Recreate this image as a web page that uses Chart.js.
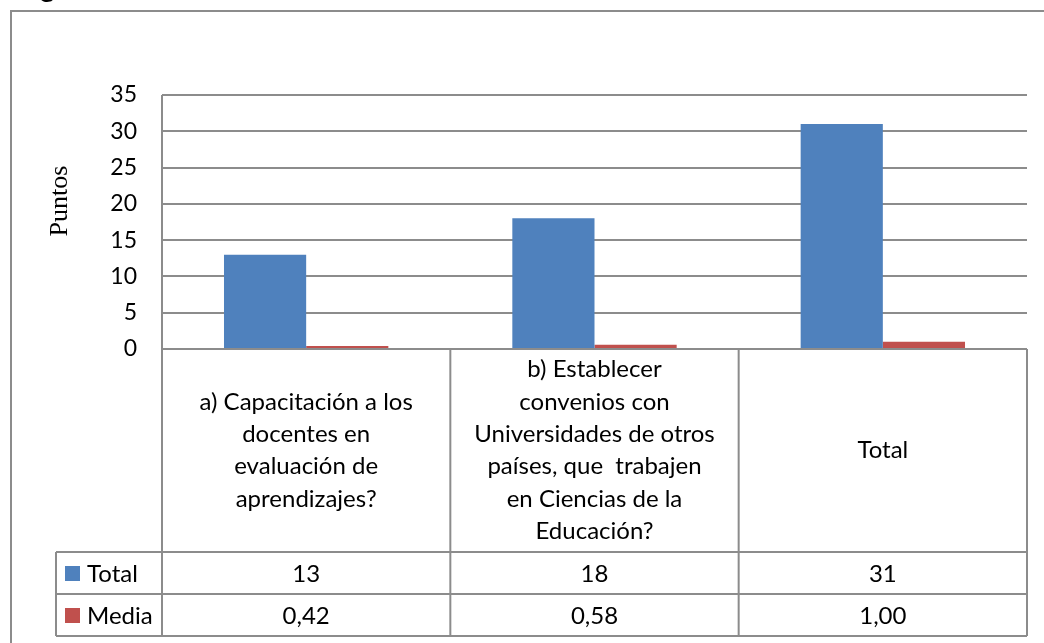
<!DOCTYPE html>
<html>
<head>
<meta charset="utf-8">
<script src="https://cdn.jsdelivr.net/npm/chart.js"></script>
<style>
  html, body { margin: 0; padding: 0; background: #fff; }
  #wrap { width: 1044px; height: 643px; position: relative; }
</style>
</head>
<body>
<div id="wrap"><canvas id="chart" width="1044" height="643"></canvas></div>
<script>
// Data
const categories = [
  ["a) Capacitación a los", "docentes en", "evaluación de", "aprendizajes?"],
  ["b) Establecer", "convenios con", "Universidades de otros", "países, que  trabajen", "en Ciencias de la", "Educación?"],
  ["Total"]
];
const seriesNames = ["Total", "Media"];
const totalValues = [13, 18, 31];
const mediaValues = [0.42, 0.58, 1.00];
const yTicks = { min: 0, max: 35, step: 5 };
const axisTitle = "Puntos";

const colors = ["#4F81BD", "#C0504D"];
const lineColor = "#8c8c8c";
const font = "Lato";

// Data table drawn under the plot
const tablePlugin = {
  id: "tabla",
  afterDraw(chart) {
    const ctx = chart.ctx, a = chart.chartArea;
    const colW = (a.right - a.left) / categories.length;
    const catBottom = 552, row1 = 594, row2 = 636, legLeft = 56;

    ctx.save();

    // cut off title fragment above the frame
    ctx.fillStyle = "#000";
    ctx.font = "bold 28px " + font;
    ctx.textAlign = "left";
    ctx.textBaseline = "alphabetic";
    ctx.fillText("g", 40, -3);

    // frame
    ctx.strokeStyle = lineColor;
    ctx.lineWidth = 2;
    ctx.beginPath();
    ctx.moveTo(11, 643); ctx.lineTo(11, 11); ctx.lineTo(1044, 11);
    ctx.stroke();

    // table grid
    ctx.beginPath();
    ctx.moveTo(a.left, a.top); ctx.lineTo(a.left, row2);
    for (let i = 1; i <= categories.length; i++) {
      const xx = a.left + i * colW;
      ctx.moveTo(xx, a.bottom); ctx.lineTo(xx, row2);
    }
    ctx.moveTo(a.left, a.bottom); ctx.lineTo(a.right, a.bottom);
    [catBottom, row1, row2].forEach(yy => { ctx.moveTo(legLeft, yy); ctx.lineTo(a.right, yy); });
    ctx.moveTo(legLeft, catBottom); ctx.lineTo(legLeft, row2);
    ctx.stroke();

    // category labels
    ctx.fillStyle = "#000";
    ctx.font = "24px " + font;
    ctx.textAlign = "center";
    ctx.textBaseline = "middle";
    const lineH = 32.4;
    const midY = (a.bottom + catBottom) / 2;
    categories.forEach((lines, i) => {
      const cx = a.left + (i + 0.5) * colW;
      const y0 = midY - (lines.length - 1) * lineH / 2;
      lines.forEach((t, j) => ctx.fillText(t, cx, y0 + j * lineH));
    });

    // series rows
    const rows = [
      { y: (catBottom + row1) / 2, vals: totalValues.map(v => String(v)) },
      { y: (row1 + row2) / 2, vals: mediaValues.map(v => v.toFixed(2).replace(".", ",")) }
    ];
    rows.forEach((r, k) => {
      ctx.fillStyle = colors[k];
      ctx.fillRect(65, r.y - 7, 15, 15);
      ctx.fillStyle = "#000";
      ctx.textAlign = "left";
      ctx.fillText(seriesNames[k], 87, r.y + 1);
      ctx.textAlign = "center";
      r.vals.forEach((t, i) => ctx.fillText(t, a.left + (i + 0.5) * colW, r.y + 1));
    });

    // axis title
    ctx.translate(60, 201);
    ctx.rotate(-Math.PI / 2);
    ctx.font = "26px 'Liberation Serif'";
    ctx.fillText(axisTitle, 0, 0);

    ctx.restore();
  }
};

new Chart(document.getElementById("chart"), {
  type: "bar",
  data: {
    labels: categories,
    datasets: [
      { label: seriesNames[0], data: totalValues, backgroundColor: colors[0] },
      { label: seriesNames[1], data: mediaValues, backgroundColor: colors[1] }
    ]
  },
  options: {
    responsive: false,
    animation: false,
    devicePixelRatio: 1,
    layout: { padding: { left: 0, right: 17, top: 95, bottom: 294 } },
    datasets: { bar: { categoryPercentage: 0.57, barPercentage: 1.0 } },
    plugins: { legend: { display: false }, tooltip: { enabled: false } },
    scales: {
      x: { display: false },
      y: {
        min: yTicks.min, max: yTicks.max,
        afterFit: s => { s.width = 162; },
        ticks: { stepSize: yTicks.step, padding: 25, color: "#000", font: { family: font, size: 23 } },
        grid: { color: lineColor, lineWidth: 2, drawTicks: false },
        border: { display: false }
      }
    }
  },
  plugins: [tablePlugin]
});
</script>
</body>
</html>
